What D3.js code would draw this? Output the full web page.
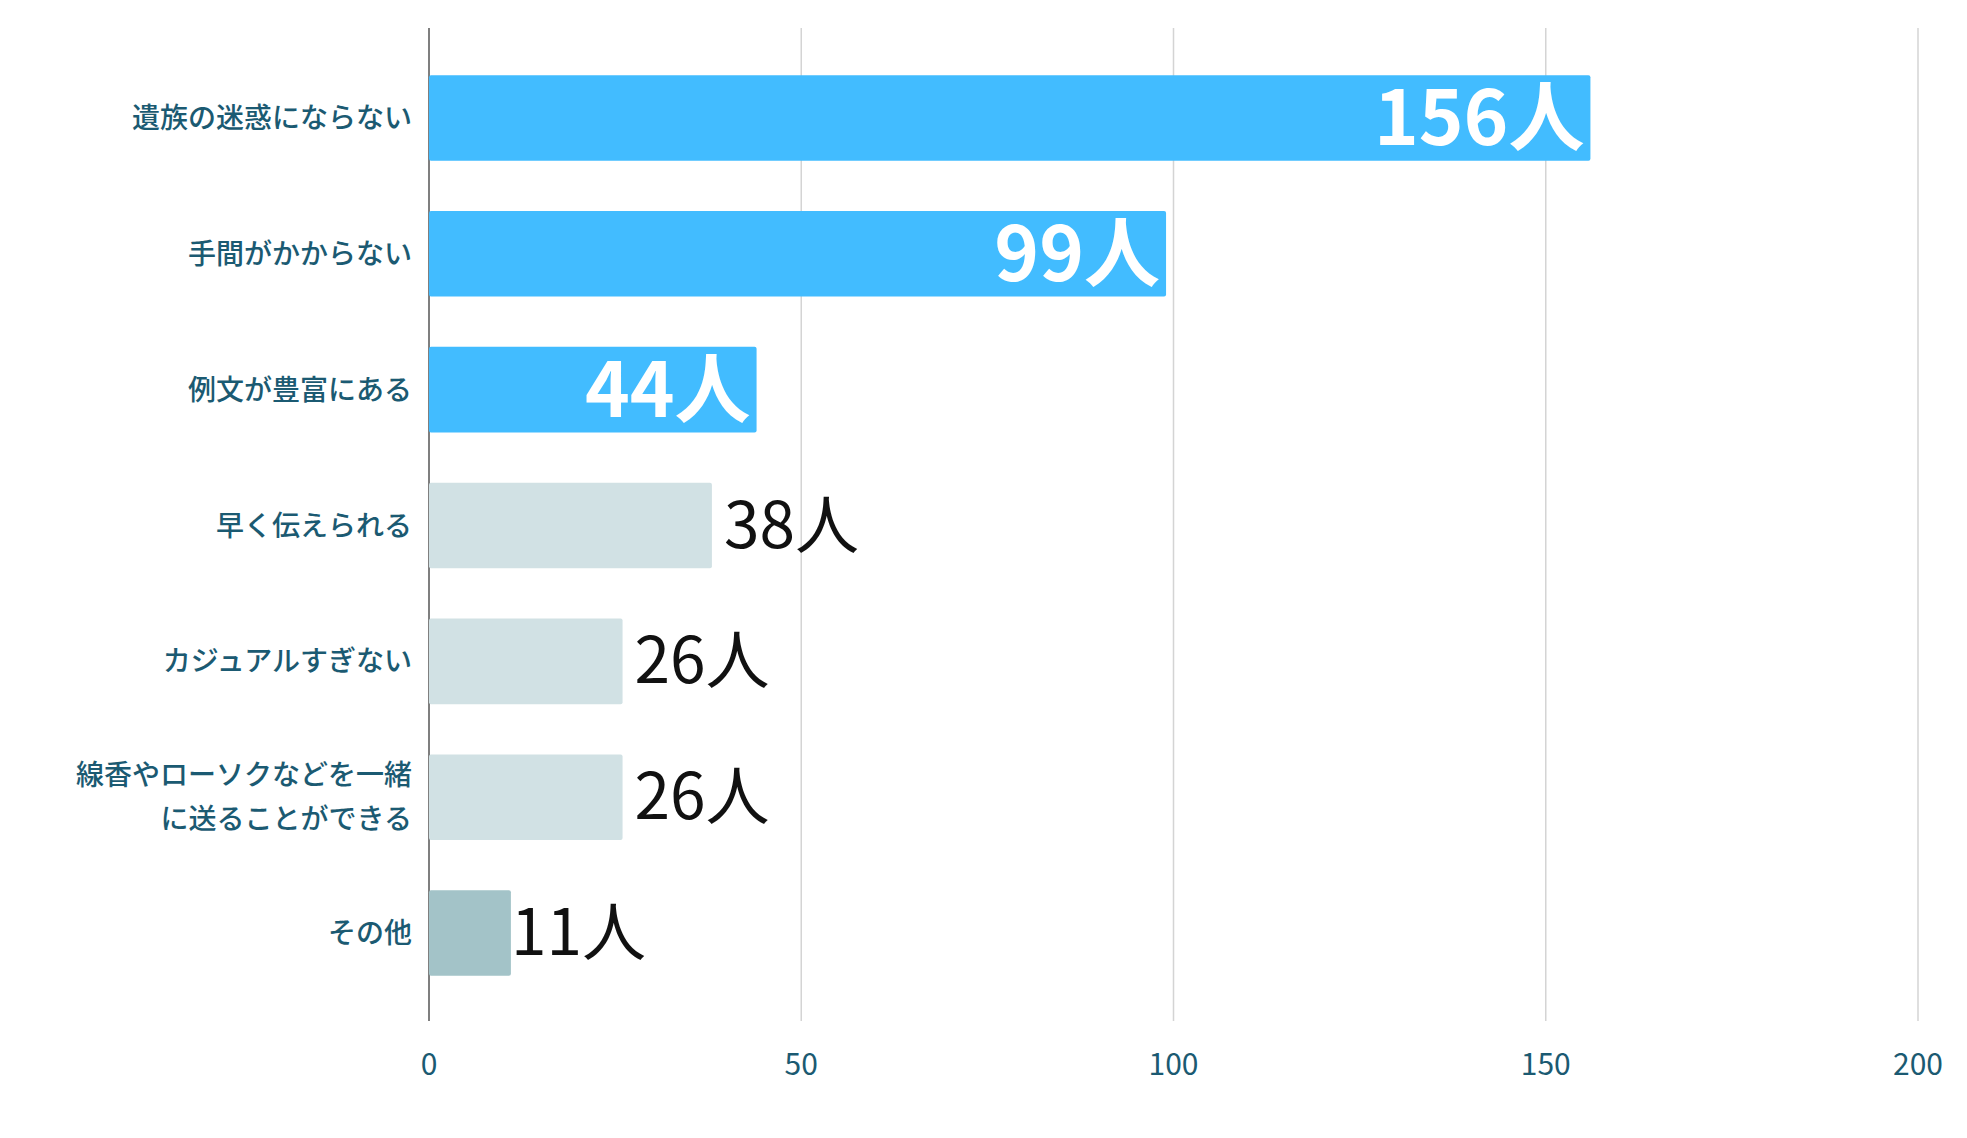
<!DOCTYPE html>
<html><head><meta charset="utf-8">
<script src="https://cdn.jsdelivr.net/npm/d3@7"></script>
<style>body{margin:0;background:#fff}</style>
</head><body><svg id="chart" width="1967" height="1138"></svg>
<script>
var categories = ["遺族の迷惑にならない", "手間がかからない", "例文が豊富にある", "早く伝えられる", "カジュアルすぎない", "線香やローソクなどを一緒\nに送ることができる", "その他"];
var values = [156, 99, 44, 38, 26, 26, 11];
var barColors = ["#42bcff", "#42bcff", "#42bcff", "#d1e1e4", "#d1e1e4", "#d1e1e4", "#a3c3c8"];
var ticks = [0, 50, 100, 150, 200];
var font = "'Noto Sans CJK JP', 'Noto Sans', sans-serif";

var svg = d3.select("#chart");
var x = d3.scaleLinear().domain([0, 200]).range([429, 1918]);
var y = d3.scaleBand().domain(categories).range([50, 1001]).paddingInner(0.37).paddingOuter(0.185);

// grid
svg.selectAll(".grid").data(ticks.slice(1)).enter().append("line")
  .attr("x1", d => x(d)).attr("x2", d => x(d)).attr("y1", 28).attr("y2", 1021)
  .attr("stroke", "#d4d4d4").attr("stroke-width", 1.5);
svg.append("line").attr("x1", x(0)).attr("x2", x(0)).attr("y1", 28).attr("y2", 1021)
  .attr("stroke", "#555").attr("stroke-width", 1.5);

svg.selectAll(".tick").data(ticks).enter().append("text")
  .attr("x", d => x(d)).attr("y", 1075).attr("text-anchor", "middle")
  .attr("font-family", font).attr("font-size", 30).attr("fill", "#1b5a72").text(d => d);

svg.selectAll(".bar").data(values).enter().append("rect")
  .attr("x", x(0)).attr("y", (d, i) => y(categories[i]))
  .attr("width", d => x(d) - x(0)).attr("height", y.bandwidth())
  .attr("rx", 2).attr("fill", (d, i) => barColors[i]);

// category labels
categories.forEach(function(c, i) {
  var lines = c.split("\n");
  var cy = y(c) + y.bandwidth() / 2;
  var t = svg.append("text").attr("text-anchor", "end").attr("font-family", font)
    .attr("font-size", 28).attr("font-weight", 500).attr("fill", "#1b5a72");
  lines.forEach(function(l, j) {
    t.append("tspan").attr("x", 412).attr("y", cy + 10 + (j - (lines.length - 1) / 2) * 44).text(l);
  });
});

// value labels
svg.selectAll(".val").data(values).enter().append("text")
  .attr("font-family", font)
  .attr("x", (d, i) => i < 3 ? x(d) - 6 : x(d) + (d < 20 ? 0 : 12))
  .attr("y", (d, i) => y(categories[i]) + y.bandwidth() / 2 + (i < 3 ? 27 : 22))
  .attr("text-anchor", (d, i) => i < 3 ? "end" : "start")
  .attr("font-size", (d, i) => i < 3 ? 76 : 64)
  .attr("font-weight", (d, i) => i < 3 ? 700 : 400)
  .attr("fill", (d, i) => i < 3 ? "#fff" : "#111")
  .text(d => d + "人");
</script></body></html>
